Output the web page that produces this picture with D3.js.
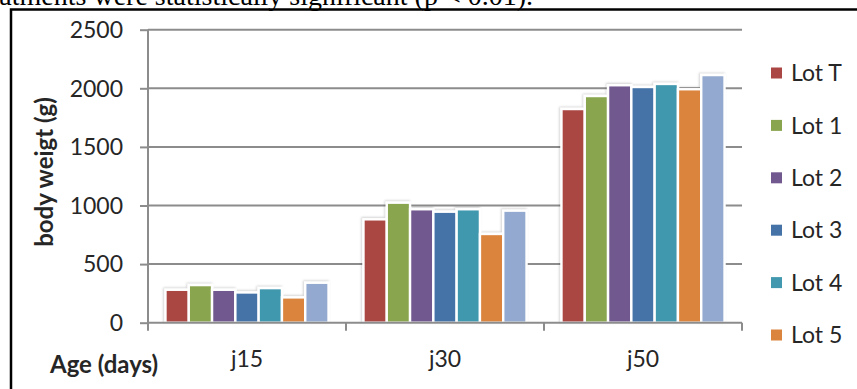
<!DOCTYPE html>
<html>
<head>
<meta charset="utf-8">
<script src="https://cdn.jsdelivr.net/npm/d3@7"></script>
<style>
  html, body { margin: 0; padding: 0; background: #fff; overflow: hidden; }
  svg { display: block; }
</style>
</head>
<body>
<svg id="chart" width="857" height="389"></svg>
<script>
// Age groups (x categories) and lots (series)
const ages = ["j15", "j30", "j50"];
const lots = ["Lot T", "Lot 1", "Lot 2", "Lot 3", "Lot 4", "Lot 5", "Lot 6"];

// Body weight (g) per lot, one value per age group
const lotT = [281, 882, 1823];
const lot1 = [321, 1024, 1934];
const lot2 = [281, 968, 2026];
const lot3 = [258, 947, 2011];
const lot4 = [295, 968, 2037];
const lot5 = [216, 757, 1992];
const lot6 = [341, 956, 2113];

const yTicks = [0, 500, 1000, 1500, 2000, 2500];
const legendLots = ["Lot T", "Lot 1", "Lot 2", "Lot 3", "Lot 4", "Lot 5"];

const seriesValues = [lotT, lot1, lot2, lot3, lot4, lot5, lot6];
const colors = ["#AA4643", "#89A54E", "#71588F", "#4572A7", "#4198AF", "#DB843D", "#93A9CF"];

const svg = d3.select("#chart");
const font = "Lato, 'Open Sans', sans-serif";
const textColor = "#262626";
const gridColor = "#8c8c8c";

// Caption line from the surrounding text
svg.append("text")
  .attr("x", 533).attr("y", 4.5)
  .attr("text-anchor", "end")
  .attr("font-family", "'Liberation Serif', 'Times New Roman', serif")
  .attr("font-size", 28)
  .attr("fill", "#000")
  .text("treatments were statistically significant (p < 0.01).");

// Frame around the chart
svg.append("rect")
  .attr("x", 11).attr("y", 9.5)
  .attr("width", 880).attr("height", 420)
  .attr("fill", "none")
  .attr("stroke", "#000")
  .attr("stroke-width", 2.5);

const plot = { left: 148, right: 742, top: 29.7, bottom: 322.7 };

const x0 = d3.scaleBand().domain(ages).range([plot.left, plot.right]).padding(0);
const x1 = d3.scaleBand().domain(lots).range([0, x0.bandwidth()])
  .paddingInner(0).paddingOuter(0.75);
const y = d3.scaleLinear().domain([0, 2500]).range([plot.bottom, plot.top]);

// Horizontal gridlines
svg.append("g")
  .selectAll("line")
  .data(yTicks.filter(d => d > 0))
  .join("line")
  .attr("x1", plot.left).attr("x2", plot.right)
  .attr("y1", d => y(d)).attr("y2", d => y(d))
  .attr("stroke", gridColor).attr("stroke-width", 2);

// Soft shadow behind the bars
const defs = svg.append("defs");
const f = defs.append("filter").attr("id", "shade")
  .attr("x", "-20%").attr("y", "-20%").attr("width", "140%").attr("height", "140%");
f.append("feDropShadow")
  .attr("dx", -1).attr("dy", -1).attr("stdDeviation", 1.2)
  .attr("flood-color", "#000").attr("flood-opacity", 0.18);

// Bars
const rows = [];
ages.forEach((a, i) => {
  lots.forEach((l, j) => rows.push({ age: a, lot: l, value: seriesValues[j][i], color: colors[j] }));
});

svg.append("g")
  .attr("filter", "url(#shade)")
  .selectAll("rect")
  .data(rows)
  .join("rect")
  .attr("x", d => x0(d.age) + x1(d.lot))
  .attr("y", d => y(d.value))
  .attr("width", x1.bandwidth())
  .attr("height", d => y(0) - y(d.value))
  .attr("fill", d => d.color)
  .attr("stroke", "#fff")
  .attr("stroke-width", 2.4);

// Y axis
const yAxis = svg.append("g")
  .attr("transform", `translate(${plot.left},0)`)
  .call(d3.axisLeft(y).tickValues(yTicks).tickFormat(d3.format("d")).tickSize(8).tickPadding(17));
yAxis.select(".domain").attr("stroke", gridColor).attr("stroke-width", 2)
  .attr("d", `M0,${plot.top}V${plot.bottom}`);
yAxis.selectAll(".tick line").attr("stroke", gridColor).attr("stroke-width", 2);
yAxis.selectAll(".tick text")
  .attr("font-family", font).attr("font-size", 23)
  .attr("fill", textColor).attr("dy", "0.34em");

// X axis
const xAxis = svg.append("g")
  .attr("transform", `translate(0,${plot.bottom})`)
  .call(d3.axisBottom(x0).tickSize(0).tickPadding(28));
xAxis.select(".domain").attr("stroke", gridColor).attr("stroke-width", 2)
  .attr("d", `M${plot.left},0H${plot.right}`);
xAxis.selectAll(".tick text")
  .attr("font-family", font).attr("font-size", 23)
  .attr("fill", textColor);

// Category boundary ticks
const bounds = ages.map(a => x0(a)).concat([x0(ages[ages.length - 1]) + x0.bandwidth()]);
svg.append("g")
  .selectAll("line")
  .data(bounds)
  .join("line")
  .attr("x1", d => d).attr("x2", d => d)
  .attr("y1", plot.bottom).attr("y2", plot.bottom + 8)
  .attr("stroke", gridColor).attr("stroke-width", 2);

// Axis titles
svg.append("text")
  .attr("transform", "translate(53,172) rotate(-90)")
  .attr("text-anchor", "middle")
  .attr("font-family", font).attr("font-weight", "bold").attr("font-size", 24)
  .attr("fill", textColor)
  .text("body weigt (g)");

svg.append("text")
  .attr("x", 50).attr("y", 373)
  .attr("font-family", font).attr("font-weight", "bold").attr("font-size", 24)
  .attr("fill", textColor)
  .text("Age (days)");

// Legend
const leg = svg.append("g")
  .selectAll("g")
  .data(legendLots)
  .join("g")
  .attr("transform", (d, i) => `translate(771,${73 + i * 52.4})`);
leg.append("rect")
  .attr("x", 0).attr("y", -5.5).attr("width", 11).attr("height", 11)
  .attr("fill", d => colors[lots.indexOf(d)]);
leg.append("text")
  .attr("x", 20).attr("y", 0).attr("dy", "0.36em")
  .attr("font-family", font).attr("font-size", 23)
  .attr("fill", textColor)
  .text(d => d);
</script>
</body>
</html>
